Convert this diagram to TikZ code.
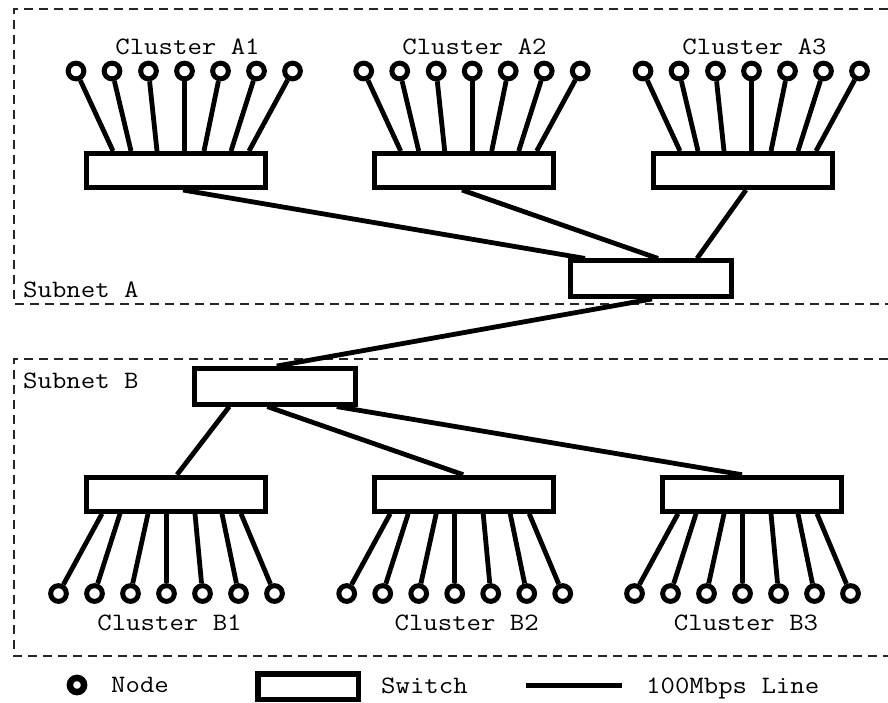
\documentclass[tikz,border=0pt]{standalone}
\usepackage{fontspec}
\newfontfamily\labfont[FakeStretch=1.12]{Latin Modern Mono}
\begin{document}
\begin{tikzpicture}[x=1pt,y=-1pt,
  switchbig/.style={draw, line width=5pt, minimum width=179pt, minimum height=34pt, inner sep=0pt},
  switchsmall/.style={switchbig, minimum width=161pt, minimum height=35.5pt},
  host/.style={circle, draw, line width=5pt, minimum size=15.7pt, inner sep=0pt},
  link/.style={line width=4.8pt},
  subnet/.style={line width=1.3pt, dash pattern=on 9pt off 6pt, color=black!85},
  lbl/.style={font=\labfont\fontsize{25}{28}\selectfont, inner sep=0pt, anchor=base},
]
\useasboundingbox (0,0) rectangle (888,702);

% subnet outlines
\draw[subnet] (888,9) -- (14,9) -- (14,304) -- (888,304);
\draw[subnet] (888,359) -- (14,359) -- (14,656) -- (888,656);
\node[lbl, anchor=base west] (subA) at (23,297) {Subnet A};
\node[lbl, anchor=base west] (subB) at (23,388) {Subnet B};

% upper clusters: hosts above their switch
\foreach \k/\sx/\lx in {1/176/187.5, 2/463.7/474.5, 3/743/754.5} {
  \node[switchbig] (swA\k) at (\sx,170.5) {};
  \node[lbl] (labA\k) at (\lx,54) {Cluster A\k};
  \foreach \i/\c/\l in {1/-100/-63, 2/-64/-45, 3/-27.5/-19, 4/8.5/8.5, 5/44.5/28, 6/80.5/55, 7/116.5/73} {
    \node[host] (A\k-\i) at ({\sx+(\c)},71) {};
    \draw[link] (A\k-\i) -- ([xshift=\l pt]swA\k.north);
  }
}

% lower clusters: hosts below their switch
\foreach \k/\sx/\lx in {1/176/169.5, 2/464.2/466.7, 3/752/746} {
  \node[switchbig] (swB\k) at (\sx,494.2) {};
  \node[lbl] (labB\k) at (\lx,630) {Cluster B\k};
  \foreach \i/\c/\l in {1/-117.5/-74, 2/-81.5/-56, 3/-45.5/-28, 4/-9.5/-9.5, 5/26.5/19, 6/62.5/46, 7/98.5/65} {
    \node[host] (B\k-\i) at ({\sx+(\c)},593.5) {};
    \draw[link] (B\k-\i) -- ([xshift=\l pt]swB\k.south);
  }
}

% core switches
\node[switchsmall] (swA) at (651,278.7) {};
\node[switchsmall] (swB) at (274.7,386.3) {};

% trunk links
\draw[link] ([xshift=7pt]swA1.south) -- ([xshift=-66pt]swA.north);
\draw[link] ([xshift=-1.7pt]swA2.south) -- ([xshift=7pt]swA.north);
\draw[link] ([xshift=3pt]swA3.south) -- ([xshift=46pt]swA.north);
\draw[link] ([xshift=1pt]swA.south) -- ([xshift=2pt]swB.north);
\draw[link] ([xshift=-45.4pt]swB.south) -- ([xshift=1pt]swB1.north);
\draw[link] ([xshift=-7.4pt]swB.south) -- ([xshift=-1pt]swB2.north);
\draw[link] ([xshift=62pt]swB.south) -- ([xshift=-10pt]swB3.north);

% legend
\node[host, line width=6.5pt, minimum size=14.2pt] (legnode) at (77,685) {};
\node[lbl, anchor=base west] (legnodetxt) at (111,692) {Node};
\node[draw, line width=5.5pt, minimum width=100.5pt, minimum height=25.5pt, inner sep=0pt] (legsw) at (308,686.5) {};
\node[lbl, anchor=base west] (legswtxt) at (381,693) {Switch};
\coordinate (legA) at (526,685);
\coordinate (legB) at (622,685);
\draw[link, line width=5pt] (legA) -- (legB);
\node[lbl, anchor=base west] (leglinetxt) at (646,693) {100Mbps Line};
\end{tikzpicture}
\end{document}
